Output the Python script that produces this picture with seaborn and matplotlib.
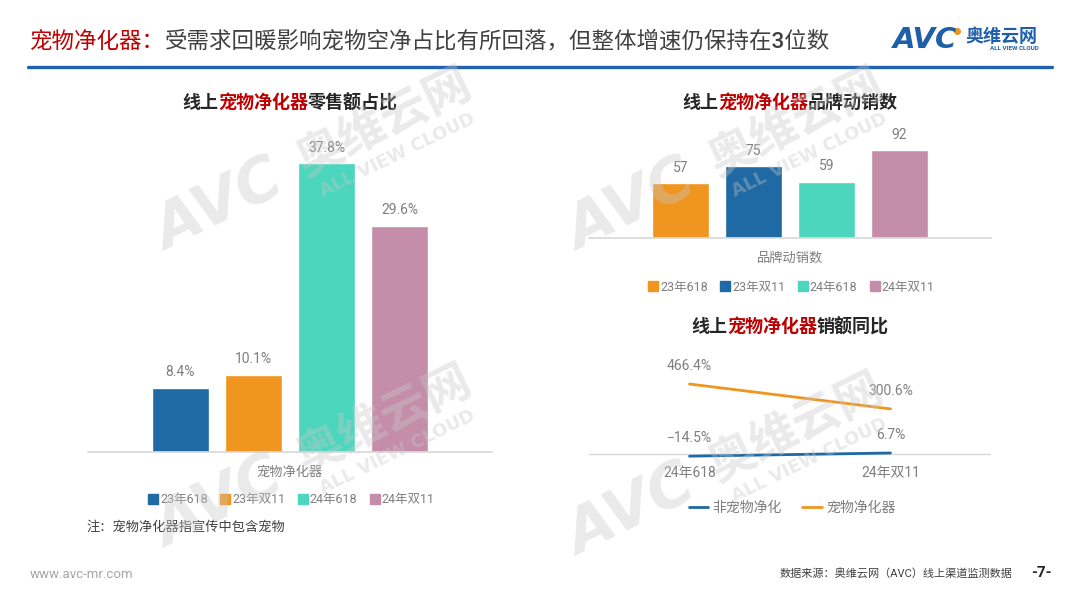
import matplotlib
matplotlib.use('Agg')
import matplotlib.pyplot as plt
from matplotlib.lines import Line2D
import seaborn as sns
import pandas as pd

# data
periods = ['23年618', '23年双11', '24年618', '24年双11']
share_values = [8.4, 10.1, 37.8, 29.6]      # 零售额占比 %
brand_values = [57, 75, 59, 92]             # 品牌动销数
yoy_periods = ['24年618', '24年双11']
yoy_series = ['非宠物净化', '宠物净化器']
non_pet_yoy = [-14.5, 6.7]
pet_yoy = [466.4, 300.6]

BLUE = '#1F69A4'
ORANGE = '#F0951F'
TEAL = '#4CD6BD'
PINK = '#C48EAA'
RED = '#C00000'
GRAY = '#7F7F7F'
DARK = '#262626'
AXIS = '#D9D9D9'

sns.set_theme(style='white')
plt.rcParams['font.family'] = ['Roboto', 'Noto Sans CJK SC', 'DejaVu Sans']

W, H = 1080, 608
fig = plt.figure(figsize=(10.8, 6.08), dpi=100)
renderer = fig.canvas.get_renderer()


def fx(px):
    return px / W


def fy(py):
    return 1 - py / H


def rect(l, t, r, b):
    return [fx(l), fy(b), (r - l) / W, (b - t) / H]


def multicolor(pieces, x, y, center=True, **kw):
    texts = [fig.text(0, fy(y), s, color=c, va='center', **kw) for s, c in pieces]
    widths = [t.get_window_extent(renderer).width / W for t in texts]
    start = fx(x) - sum(widths) / 2 if center else fx(x)
    for t, w in zip(texts, widths):
        t.set_x(start)
        start += w


def clean(ax):
    for s in ['top', 'right', 'left']:
        ax.spines[s].set_visible(False)
    ax.set_yticks([])
    ax.set_xlabel('')
    ax.set_ylabel('')


def minus(v):
    return f'{v}%'.replace('-', '\u2212')


# header
multicolor([('宠物净化器：', RED), ('受需求回暖影响宠物空净占比有所回落，但整体增速仍保持在3位数', '#404040')],
           30, 42, center=False, fontsize=16.2, fontweight='medium')
fig.add_artist(Line2D([fx(28), fx(1052)], [fy(67), fy(67)], color='#1E62B0', lw=2.4))
fig.text(fx(893), fy(40), 'AVC', fontsize=21, fontweight='heavy', fontstyle='italic',
         color='#1F5FAA', va='center', family='DejaVu Sans')
fig.add_artist(Line2D([fx(957)], [fy(31)], marker='o', markersize=4, color=ORANGE))
fig.text(fx(965), fy(37), '奥维云网', fontsize=13, fontweight='bold', color='#1F5FAA', va='center')
fig.text(fx(1014), fy(49), 'ALL VIEW CLOUD', fontsize=4.5, fontweight='bold', color='#1F5FAA',
         va='center', ha='center')

leg_kw = dict(loc='center', ncol=4, frameon=False, fontsize=9, labelcolor=GRAY,
              handletextpad=0.25, columnspacing=1.1, handlelength=0.6)

# left: 零售额占比
ax1 = fig.add_axes(rect(88, 140, 492, 452))
share_df = pd.DataFrame({'类别': '宠物净化器', '时期': periods, '值': share_values})
left_colors = [BLUE, ORANGE, TEAL, PINK]
sns.barplot(data=share_df, x='类别', y='值', hue='时期', hue_order=periods, palette=left_colors,
            saturation=1, gap=0.22, legend=False, ax=ax1)
for c in ax1.containers:
    ax1.bar_label(c, fmt='%.1f%%', padding=6, fontsize=10, color=GRAY)
ax1.set_xlim(-0.553, 0.553)
ax1.set_ylim(0, 40.8)
clean(ax1)
ax1.spines['bottom'].set_color(AXIS)
ax1.tick_params(axis='x', length=0, pad=10, labelsize=9.5, labelcolor=GRAY)
multicolor([('线上', DARK), ('宠物净化器', RED), ('零售额占比', DARK)], 290, 103,
           fontsize=13, fontweight='bold')
h1 = [Line2D([0], [0], marker='s', ls='', markersize=7, color=c) for c in left_colors]
fig.legend(h1, periods, bbox_to_anchor=(fx(292), fy(500)), **leg_kw)
fig.text(fx(86), fy(527), '注：宠物净化器指宣传中包含宠物', fontsize=9.5, color='#404040', va='center')

# right top: 品牌动销数
ax2 = fig.add_axes(rect(589, 140, 991, 238))
brand_df = pd.DataFrame({'类别': '品牌动销数', '时期': periods, '值': brand_values})
right_colors = [ORANGE, BLUE, TEAL, PINK]
sns.barplot(data=brand_df, x='类别', y='值', hue='时期', hue_order=periods, palette=right_colors,
            saturation=1, gap=0.22, legend=False, ax=ax2)
for c in ax2.containers:
    ax2.bar_label(c, fmt='%d', padding=6, fontsize=10, color=GRAY)
ax2.set_xlim(-0.551, 0.551)
ax2.set_ylim(0, 102.4)
clean(ax2)
ax2.spines['bottom'].set_color(AXIS)
ax2.tick_params(axis='x', length=0, pad=10, labelsize=9.5, labelcolor=GRAY)
multicolor([('线上', DARK), ('宠物净化器', RED), ('品牌动销数', DARK)], 790, 103,
           fontsize=13, fontweight='bold')
h2 = [Line2D([0], [0], marker='s', ls='', markersize=7, color=c) for c in right_colors]
fig.legend(h2, periods, bbox_to_anchor=(fx(792), fy(287)), **leg_kw)

# right bottom: 销额同比
ax3 = fig.add_axes(rect(589, 350, 991, 460))
yoy_df = pd.DataFrame({'时期': yoy_periods * 2,
                       '系列': [yoy_series[0]] * 2 + [yoy_series[1]] * 2,
                       '同比': non_pet_yoy + pet_yoy})
line_colors = {yoy_series[0]: BLUE, yoy_series[1]: ORANGE}
sns.lineplot(data=yoy_df, x='时期', y='同比', hue='系列', palette=line_colors, linewidth=2,
             sort=False, legend=False, ax=ax3)
for vals in [non_pet_yoy, pet_yoy]:
    for i, v in enumerate(vals):
        ax3.annotate(minus(v), (i, v), xytext=(0, 8), textcoords='offset points',
                     ha='center', va='bottom', fontsize=10, color=GRAY)
ax3.axhline(0, color=AXIS, lw=1, zorder=0)
ax3.set_xlim(-0.5, 1.5)
ax3.set_ylim(-40, 693)
clean(ax3)
ax3.spines['bottom'].set_visible(False)
ax3.tick_params(axis='x', length=0, pad=4, labelsize=10, labelcolor=GRAY)
multicolor([('线上', DARK), ('宠物净化器', RED), ('销额同比', DARK)], 790, 327,
           fontsize=13, fontweight='bold')
h3 = [Line2D([0], [0], lw=2, color=line_colors[s]) for s in yoy_series]
fig.legend(h3, yoy_series, loc='center', bbox_to_anchor=(fx(792), fy(508)), ncol=2, frameon=False,
           fontsize=10, labelcolor=GRAY, handletextpad=0.3, columnspacing=1.5, handlelength=1.4)

# watermark tiles
for cx, cy in [(385, 123), (797, 123), (385, 420), (797, 428)]:
    kw = dict(color='#C8C8C8', alpha=0.38, rotation=26, ha='center', va='center', zorder=10)
    fig.text(fx(cx - 165), fy(cy + 84), 'AVC', fontsize=44, fontweight='heavy',
             fontstyle='italic', family='DejaVu Sans', **kw)
    fig.text(fx(cx), fy(cy), '奥维云网', fontsize=34, fontweight='bold', **kw)
    fig.text(fx(cx + 12), fy(cy + 32), 'ALL VIEW CLOUD', fontsize=13, fontweight='bold',
             family='DejaVu Sans', **kw)

# footer
fig.text(fx(30), fy(574), 'www.avc-mr.com', fontsize=9.5, color='#A6A6A6', va='center')
fig.text(fx(1012), fy(574), '数据来源：奥维云网（AVC）线上渠道监测数据', fontsize=8, color='#404040',
         va='center', ha='right')
fig.text(fx(1041), fy(573), '-7-', fontsize=11, fontweight='bold', color='#262626',
         va='center', ha='center')

fig.savefig('out.png', dpi=100)
